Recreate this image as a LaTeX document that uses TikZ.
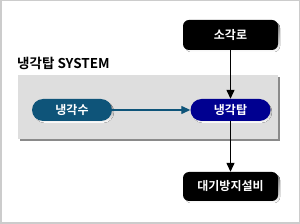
\documentclass[tikz,border=0pt]{standalone}
\usepackage{fontspec}
\newfontfamily\kr{Noto Sans CJK KR}[BoldFont={* Bold}]
\usetikzlibrary{arrows.meta}
\definecolor{panel}{HTML}{DEDEDE}
\definecolor{panelshadow}{HTML}{8A8A8A}
\definecolor{teal}{HTML}{0E5479}
\definecolor{navy}{HTML}{000090}
\definecolor{frame}{HTML}{CCCCCC}
\definecolor{shade}{HTML}{7A7A7A}
\tikzset{
  blackbox/.style={fill=black, rounded corners=6pt, minimum width=95pt, minimum height=30pt, inner sep=0pt,
    text=white, font=\kr\bfseries\fontsize{12}{13}\selectfont},
  pill/.style={rounded corners=11pt, minimum width=80pt, minimum height=22pt, inner sep=0pt,
    text=white, font=\kr\bfseries\fontsize{12}{13}\selectfont},
  arr/.style={line width=1.3pt, -{Triangle[length=9pt,width=8pt]}},
}
\begin{document}
\begin{tikzpicture}[x=1pt,y=-1pt]
\useasboundingbox (0,0) rectangle (300,224);
\fill[white] (0,0) rectangle (300,224);
\draw[frame, line width=1.5pt] (0.75,0.75) rectangle (299.25,223.25);
% panel
\fill[panelshadow] (20,77) rectangle (280,141);
\fill[panel] (18,75) rectangle (278,139);
\node[anchor=base west, inner sep=0pt, font=\kr\bfseries\fontsize{13.5}{14}\selectfont] (title) at (17,69) {냉각탑 SYSTEM};
% shadows
\fill[shade, rounded corners=6pt] (185,22) rectangle (280,52);
\fill[shade, rounded corners=6pt] (185,174) rectangle (280,203);
\fill[shade, rounded corners=11pt] (34,101) rectangle (114,123);
\fill[shade, rounded corners=11pt] (192,101) rectangle (272,123);
% nodes
\node[blackbox] (so) at (230.5,35) {소각로};
\node[blackbox, minimum height=29pt] (dae) at (230.5,186.5) {대기방지설비};
\node[pill, fill=teal] (su) at (72,110) {냉각수};
\node[pill, fill=navy] (tap) at (230.5,110) {냉각탑};
% arrows
\draw[arr, teal] (su) -- (tap);
\draw[arr] (so) -- (tap);
\draw[arr] (tap) -- (dae);
\end{tikzpicture}
\end{document}
